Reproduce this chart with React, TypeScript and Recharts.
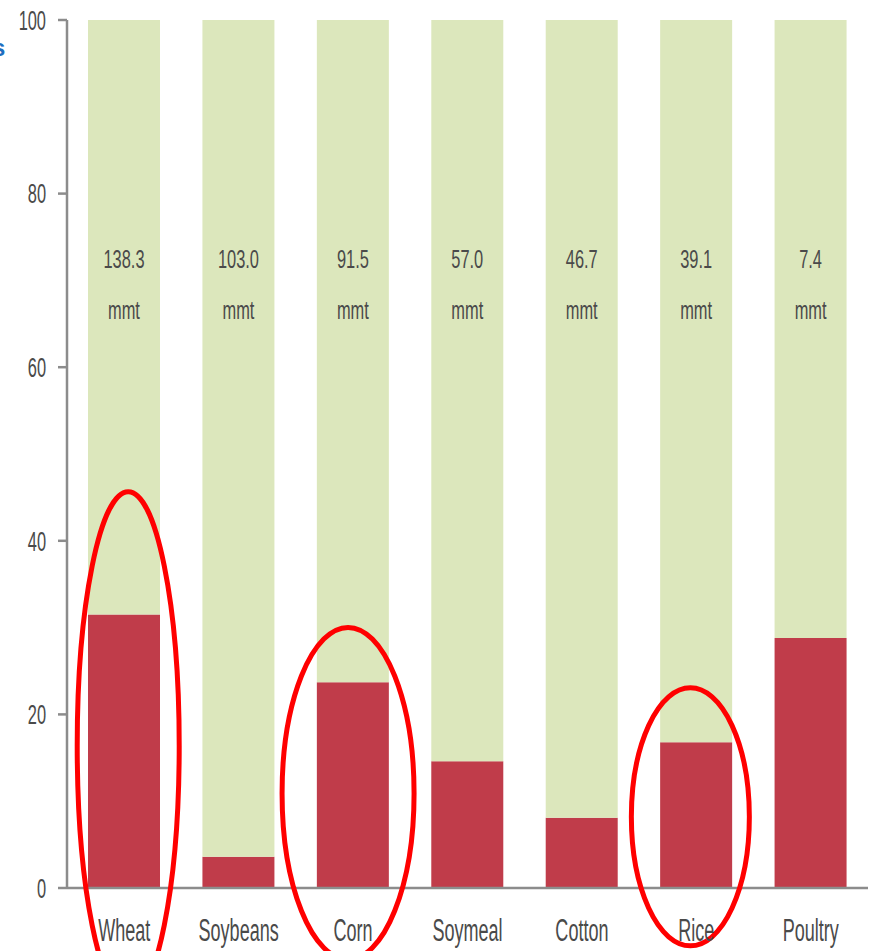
import React from "react";
import { BarChart, Bar, XAxis, YAxis, LabelList, ReferenceDot } from "recharts";

const CATEGORIES = ["Wheat", "Soybeans", "Corn", "Soymeal", "Cotton", "Rice", "Poultry"];
const SHARE = [31.5, 3.6, 23.7, 14.6, 8.1, 16.8, 28.8];
const VOLUME_LABELS = ["138.3", "103.0", "91.5", "57.0", "46.7", "39.1", "7.4"];
const Y_TICKS = [0, 20, 40, 60, 80, 100];
const UNIT = "mmt";

// annotation ellipses (highlight circles drawn over some categories)
const HIGHLIGHTS = [
  { category: "Wheat", center: 16.4, dx: 4, rx: 51, ry: 254 },
  { category: "Corn", center: 10.9, dx: -5, rx: 66, ry: 166 },
  { category: "Rice", center: 8.2, dx: -6, rx: 59, ry: 129 },
];

const data = CATEGORIES.map((c, i) => ({
  category: c,
  share: SHARE[i],
  rest: 100 - SHARE[i],
  volume: VOLUME_LABELS[i],
}));

const FONT = "'Liberation Sans', Arial, sans-serif";
const TEXT = "#4a4a4a";
const RED = "#c03c4a";
const GREEN = "#dce7bc";
const AXIS = "#8c8c8c";

const YTick = (props: any) => {
  const { x, y, payload } = props;
  return (
    <g transform={`translate(${x},${y}) scale(0.82,1.4)`}>
      <text x={0} y={0} textAnchor="end" dominantBaseline="central" fontFamily={FONT} fontSize={20} fill={TEXT}>
        {payload.value}
      </text>
    </g>
  );
};

const XTick = (props: any) => {
  const { x, y, payload } = props;
  return (
    <g transform={`translate(${x},${y + 53}) scale(0.82,1.4)`}>
      <text x={0} y={0} textAnchor="middle" fontFamily={FONT} fontSize={22} fill={TEXT}>
        {payload.value}
      </text>
    </g>
  );
};

const VolumeLabel = (props: any) => {
  const { x, y, width, value } = props;
  const cx = x + width / 2;
  return (
    <g>
      <g transform={`translate(${cx},${y + 248}) scale(0.82,1.3)`}>
        <text x={0} y={0} textAnchor="middle" fontFamily={FONT} fontSize={20} fill={TEXT}>
          {value}
        </text>
      </g>
      <g transform={`translate(${cx},${y + 299}) scale(0.82,1.3)`}>
        <text x={0} y={0} textAnchor="middle" fontFamily={FONT} fontSize={20} fill={TEXT}>
          {UNIT}
        </text>
      </g>
    </g>
  );
};

const makeEllipse = (dx: number, rx: number, ry: number) => (props: any) => {
  const { cx, cy } = props;
  return <ellipse cx={cx + dx} cy={cy} rx={rx} ry={ry} fill="none" stroke="#ff0000" strokeWidth={5} />;
};

export default function App() {
  return (
    <div style={{ position: "absolute", left: 0, top: 0, width: 874, height: 951, background: "#fff" }}>
      <BarChart
        width={874}
        height={951}
        data={data}
        margin={{ top: 20, right: 6, bottom: 23, left: 0 }}
        barSize={72}
      >
        <text x={-8} y={56} fontFamily="'Liberation Sans', sans-serif" fontWeight="bold" fontSize={24} fill="#1f6fc0">
          s
        </text>
        <XAxis
          dataKey="category"
          height={40}
          tickLine={false}
          tickSize={0}
          tickMargin={0}
          axisLine={{ stroke: AXIS, strokeWidth: 2.5 }}
          tick={<XTick />}
          interval={0}
        />
        <YAxis
          width={67}
          domain={[0, 100]}
          ticks={Y_TICKS}
          tickSize={9}
          tickMargin={12}
          axisLine={{ stroke: AXIS, strokeWidth: 2.5 }}
          tickLine={{ stroke: AXIS, strokeWidth: 2.5 }}
          tick={<YTick />}
          allowDataOverflow
        />
        <Bar dataKey="share" stackId="a" fill={RED} isAnimationActive={false} />
        <Bar dataKey="rest" stackId="a" fill={GREEN} isAnimationActive={false}>
          <LabelList dataKey="volume" content={<VolumeLabel />} />
        </Bar>
        {HIGHLIGHTS.map((h) => (
          <ReferenceDot
            key={h.category}
            x={h.category}
            y={h.center}
            ifOverflow="visible"
            shape={makeEllipse(h.dx, h.rx, h.ry)}
          />
        ))}
      </BarChart>
    </div>
  );
}
